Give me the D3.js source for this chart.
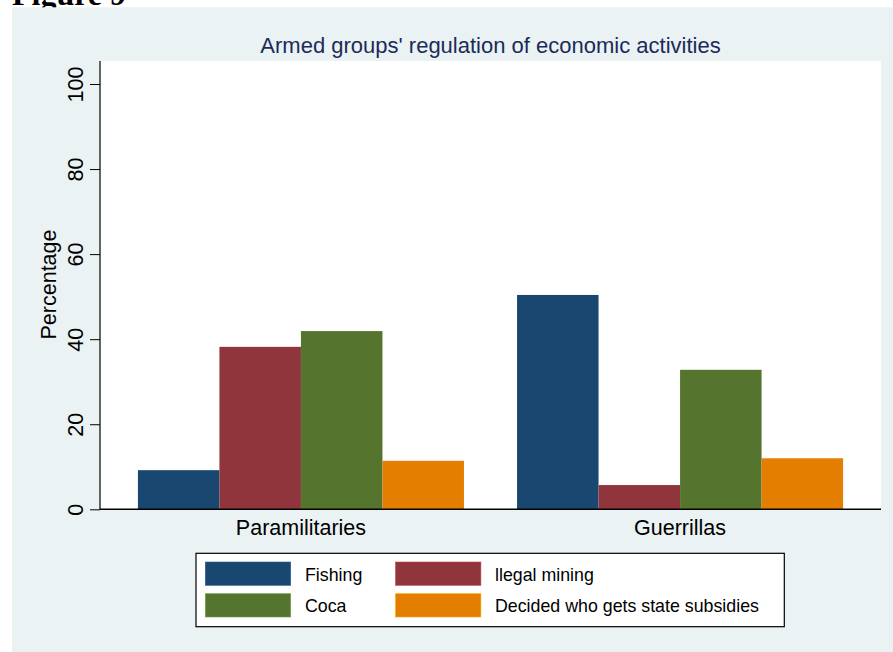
<!DOCTYPE html>
<html>
<head>
<meta charset="utf-8">
<script src="https://cdn.jsdelivr.net/npm/d3@7"></script>
<style>
  html, body { margin: 0; padding: 0; background: #ffffff; }
  svg { display: block; }
  text { font-family: "Liberation Sans", Arial, Helvetica, sans-serif; }
</style>
</head>
<body>
<svg id="chart" width="893" height="652"></svg>
<script>
const categories = ["Paramilitaries", "Guerrillas"];
const seriesNames = ["Fishing", "llegal mining", "Coca", "Decided who gets state subsidies"];
const seriesColors = ["#1a476f", "#90353b", "#55752f", "#e37e00"];
const fishing = [9.2, 50.4];
const illegalMining = [38.2, 5.7];
const coca = [41.9, 32.8];
const subsidies = [11.4, 12.0];
const yTicks = [0, 20, 40, 60, 80, 100];
const titleText = "Armed groups' regulation of economic activities";
const yLabel = "Percentage";
const figLabel = "Figure 9";

const seriesValues = [fishing, illegalMining, coca, subsidies];

const svg = d3.select("#chart");

// Figure caption (cut off above the graph region)
svg.append("text")
  .attr("x", 12).attr("y", 5)
  .style("font-family", "'Liberation Serif', 'Times New Roman', serif")
  .style("font-weight", "bold")
  .attr("font-size", 32)
  .attr("fill", "#000")
  .text(figLabel);

// Graph background
svg.append("rect")
  .attr("x", 12).attr("y", 7.3)
  .attr("width", 893 - 12).attr("height", 652 - 7.3)
  .attr("fill", "#eaf2f3");

const plotLeft = 100, plotRight = 881, plotTop = 61;
const y = d3.scaleLinear().domain([0, 100]).range([509.3, 84]);
const plotBottom = y(0);

// Plot region
svg.append("rect")
  .attr("x", plotLeft).attr("y", plotTop)
  .attr("width", plotRight - plotLeft).attr("height", plotBottom - plotTop)
  .attr("fill", "#ffffff");

const x0 = d3.scaleBand().domain(categories)
  .range([plotLeft, plotRight]).paddingInner(0.14).paddingOuter(0.1);
const x1 = d3.scaleBand().domain(d3.range(seriesNames.length))
  .range([0, x0.bandwidth()]).padding(0);

// Bars
const barG = svg.append("g");
categories.forEach((cat, ci) => {
  seriesValues.forEach((vals, si) => {
    barG.append("rect")
      .attr("x", x0(cat) + x1(si))
      .attr("y", y(vals[ci]))
      .attr("width", x1.bandwidth())
      .attr("height", y(0) - y(vals[ci]))
      .attr("fill", seriesColors[si]);
  });
});

// Y axis
const yAxis = d3.axisLeft(y).tickValues(yTicks).tickSize(10).tickPadding(0).tickFormat(d3.format("d"));
const yg = svg.append("g").attr("transform", `translate(${plotLeft},0)`).call(yAxis);
yg.select(".domain").remove();
yg.append("line").attr("x1", 0).attr("x2", 0).attr("y1", plotTop).attr("y2", plotBottom)
  .attr("stroke", "#000").attr("stroke-width", 1.2);
yg.selectAll(".tick line").attr("stroke", "#000").attr("stroke-width", 1);
yg.selectAll(".tick text")
  .attr("font-size", 21.5)
  .attr("fill", "#000")
  .attr("text-anchor", "middle")
  .attr("x", null).attr("dy", null)
  .attr("transform", "translate(-17,0) rotate(-90)")
  .attr("y", 0);

// X axis
const xAxis = d3.axisBottom(x0).tickSize(0).tickPadding(0);
const xg = svg.append("g").attr("transform", `translate(0,${plotBottom})`).call(xAxis);
xg.select(".domain").remove();
xg.append("line").attr("x1", plotLeft).attr("x2", plotRight).attr("y1", 0).attr("y2", 0)
  .attr("stroke", "#000").attr("stroke-width", 1.4);
xg.selectAll(".tick text")
  .attr("font-size", 21.5)
  .attr("fill", "#000")
  .attr("dy", null)
  .attr("y", 26);

// Y label
svg.append("text")
  .attr("transform", `translate(55.5,284.5) rotate(-90)`)
  .attr("text-anchor", "middle")
  .attr("font-size", 21.5)
  .attr("fill", "#000")
  .text(yLabel);

// Title
svg.append("text")
  .attr("x", 490.5).attr("y", 53)
  .attr("text-anchor", "middle")
  .attr("font-size", 22)
  .attr("fill", "#1c2b59")
  .text(titleText);

// Legend
const lg = svg.append("g");
lg.append("rect")
  .attr("x", 196).attr("y", 553.3).attr("width", 784.3 - 196).attr("height", 626.7 - 553.3)
  .attr("fill", "#fff").attr("stroke", "#000").attr("stroke-width", 1.2);
const colX = [205.3, 395.5];
const textX = [305, 495];
const rowY = [562, 593.7];
seriesNames.forEach((name, i) => {
  const c = i % 2, r = Math.floor(i / 2);
  lg.append("rect")
    .attr("x", colX[c]).attr("y", rowY[r])
    .attr("width", 85.4).attr("height", 23.3)
    .attr("fill", seriesColors[i])
    .attr("stroke", d3.color(seriesColors[i]).brighter(0.8)).attr("stroke-width", 0.6);
  lg.append("text")
    .attr("x", textX[c]).attr("y", rowY[r] + 18.5)
    .attr("font-size", 17.8)
    .attr("fill", "#000")
    .text(name);
});
</script>
</body>
</html>
